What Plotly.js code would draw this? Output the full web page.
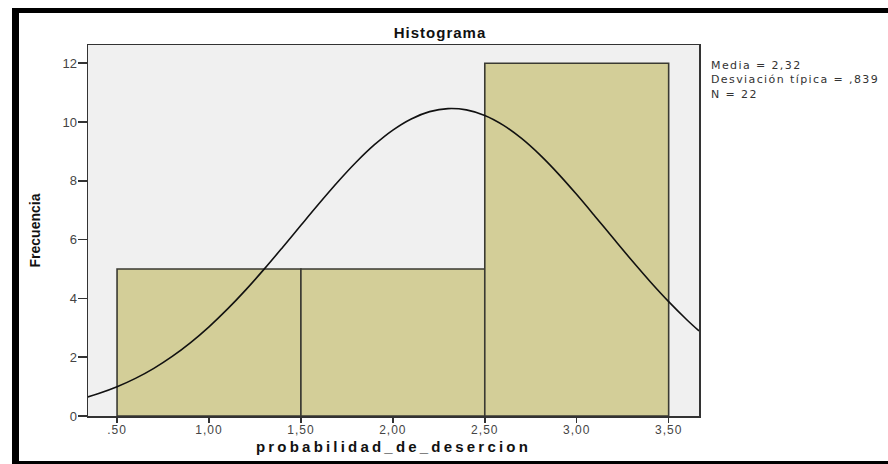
<!DOCTYPE html>
<html><head><meta charset="utf-8">
<script src="https://cdn.plot.ly/plotly-3.0.1.min.js"></script>
<style>
html,body{margin:0;padding:0;background:#fff;}
#wrap{position:relative;width:888px;height:464px;overflow:hidden;}
#chart{width:888px;height:464px;}
#frame{position:absolute;left:12px;top:8px;width:869px;height:448px;border-left:7px solid #000;border-top:5px solid #000;border-bottom:3px solid #000;pointer-events:none;}
.xtick text{letter-spacing:1px;}
.g-xtitle text{letter-spacing:3.2px;}
.gtitle{letter-spacing:1px;}
.annotation-text{letter-spacing:1.4px;}
</style>
</head><body>
<div id="wrap"><div id="chart"></div><div id="frame"></div></div>
<script>
// Histogram data
const binCenters = [1, 2, 3];
const frequencies = [5, 5, 12];
// Normal curve
const curveX = [0.34,0.4,0.5,0.6,0.7,0.8,0.9,1.0,1.1,1.2,1.3,1.4,1.5,1.6,1.7,1.8,1.9,2.0,2.1,2.2,2.3,2.4,2.5,2.6,2.7,2.8,2.9,3.0,3.1,3.2,3.3,3.4,3.5,3.6,3.665];
const curveY = [0.646,0.763,0.995,1.279,1.622,2.027,2.497,3.034,3.634,4.291,4.996,5.734,6.488,7.237,7.960,8.632,9.228,9.726,10.106,10.353,10.457,10.412,10.222,9.893,9.440,8.881,8.237,7.532,6.790,6.034,5.288,4.568,3.890,3.267,2.894];
// Axis ticks
const xTickVals = [0.5, 1.0, 1.5, 2.0, 2.5, 3.0, 3.5];
const xTickText = [".50", "1,00", "1,50", "2,00", "2,50", "3,00", "3,50"];
const yTickVals = [0, 2, 4, 6, 8, 10, 12];
const yTickText = ["0", "2", "4", "6", "8", "10", "12"];
// Stats text
const statsLines = ["Media = 2,32", "Desviación típica = ,839", "N = 22"];

const FONT = "Liberation Sans, Arial, sans-serif";

const traces = [
  {
    type: "bar",
    x: binCenters,
    y: frequencies,
    width: 1,
    marker: {color: "#D3CE98", line: {color: "#3a3a32", width: 1.6}},
    hoverinfo: "skip",
    showlegend: false
  },
  {
    type: "scatter",
    mode: "lines",
    x: curveX,
    y: curveY,
    line: {color: "#111", width: 1.6, shape: "spline"},
    hoverinfo: "skip",
    showlegend: false
  }
];

const annotations = [{
  text: statsLines.join("<br>"),
  xref: "paper", yref: "paper",
  x: (709 - 88) / 611, y: (416 - 80) / 371,
  xanchor: "left", yanchor: "middle", align: "left",
  showarrow: false,
  font: {family: "DejaVu Sans, sans-serif", size: 11, color: "#333"}
}];

const layout = {
  width: 888, height: 464,
  margin: {l: 88, r: 189, t: 45, b: 48},
  paper_bgcolor: "#fff",
  plot_bgcolor: "#F0F0F0",
  bargap: 0,
  title: {
    text: "Histograma",
    font: {family: FONT, size: 15, weight: "bold", color: "#111"},
    xref: "container", yref: "container",
    x: 440 / 888, y: 1 - 33 / 464,
    xanchor: "center", yanchor: "middle"
  },
  xaxis: {
    range: [0.342, 3.665],
    tickmode: "array", tickvals: xTickVals, ticktext: xTickText,
    ticks: "outside", ticklen: 5, tickwidth: 1.5, tickcolor: "#333",
    ticklabelstandoff: -3,
    showline: true, linecolor: "#333", linewidth: 1.5, mirror: true,
    showgrid: false, zeroline: false,
    tickfont: {family: FONT, size: 12, color: "#444"},
    title: {text: "probabilidad_de_desercion", standoff: 5,
            font: {family: FONT, size: 15, weight: "bold", color: "#111"}}
  },
  yaxis: {
    range: [0, 12.62],
    tickmode: "array", tickvals: yTickVals, ticktext: yTickText,
    ticks: "outside", ticklen: 9, tickwidth: 1.5, tickcolor: "#333",
    ticklabelstandoff: -2,
    showline: true, linecolor: "#333", linewidth: 1.5, mirror: true,
    showgrid: false, zeroline: false,
    tickfont: {family: FONT, size: 13, color: "#444"},
    title: {text: "Frecuencia", standoff: 18,
            font: {family: FONT, size: 14, weight: "bold", color: "#111"}}
  },
  annotations: annotations
};

Plotly.newPlot("chart", traces, layout, {displayModeBar: false, staticPlot: true});
</script>
</body></html>
